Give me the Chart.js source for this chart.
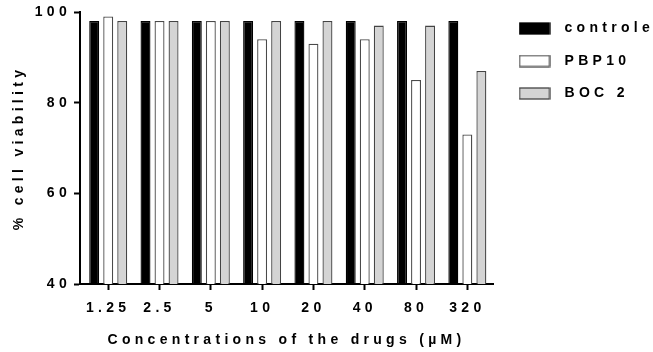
<!DOCTYPE html>
<html>
<head>
<meta charset="utf-8">
<script src="https://cdn.jsdelivr.net/npm/chart.js@4.4.0/dist/chart.umd.min.js"></script>
<style>
  html, body { margin: 0; padding: 0; background: #fff; }
  #wrap { width: 653px; height: 352px; }
</style>
</head>
<body>
<div id="wrap"><canvas id="c" width="653" height="352"></canvas></div>
<script>
// Cell viability (%) after exposure to each drug concentration (µM)
const concentrations = ['1.25', '2.5', '5', '10', '20', '40', '80', '320'];
const controle = [98, 98, 98, 98, 98, 98, 98, 98];
const pbp10 = [99, 98, 98, 94, 93, 94, 85, 73];
const boc2 = [98, 98, 98, 98, 98, 97, 97, 87];
const viabilityTicks = [40, 60, 80, 100];

const FONT = "'Liberation Sans', Arial, sans-serif";
const LETTER_SPACING = '4.3px';
const boldFont = { family: FONT, size: 14, weight: 'bold' };

const seriesStyles = [
  { fill: '#000', stroke: '#000' },
  { fill: '#fff', stroke: '#4a4a4a' },
  { fill: '#d4d4d4', stroke: '#444' }
];

// Wide-tracked lettering for every label on the canvas
const trackedText = {
  id: 'trackedText',
  beforeUpdate(chart) { chart.ctx.letterSpacing = LETTER_SPACING; },
  beforeDraw(chart) { chart.ctx.letterSpacing = LETTER_SPACING; }
};

// 30x11 legend swatches with a wider gap before the label text
function swatch(style) {
  const c = document.createElement('canvas');
  c.width = 32; c.height = 13;
  const g = c.getContext('2d');
  g.fillStyle = style.fill;
  g.fillRect(1, 1, 30, 11);
  g.strokeStyle = style.stroke;
  g.lineWidth = 1.3;
  g.strokeRect(1, 1, 30, 11);
  return c;
}
const swatches = seriesStyles.map(swatch);

const points = values => values.map((v, i) => ({ x: i, y: v }));

new Chart(document.getElementById('c'), {
  type: 'bar',
  data: {
    datasets: [
      { label: 'controle', data: points(controle), backgroundColor: seriesStyles[0].fill, borderColor: seriesStyles[0].stroke, borderWidth: 1.3 },
      { label: 'PBP10', data: points(pbp10), backgroundColor: seriesStyles[1].fill, borderColor: seriesStyles[1].stroke, borderWidth: 1.3 },
      { label: 'BOC 2', data: points(boc2), backgroundColor: seriesStyles[2].fill, borderColor: seriesStyles[2].stroke, borderWidth: 1.3 }
    ]
  },
  options: {
    responsive: false,
    animation: false,
    devicePixelRatio: 1,
    datasets: { bar: { categoryPercentage: 0.82, barPercentage: 0.71 } },
    layout: { padding: { top: 3, right: 0, bottom: 0, left: 0 } },
    plugins: {
      tooltip: { enabled: false },
      legend: {
        position: 'right',
        align: 'start',
        maxWidth: 160,
        labels: {
          usePointStyle: true,
          pointStyleWidth: 46,
          boxHeight: 11,
          padding: 18.5,
          color: '#000',
          font: boldFont,
          generateLabels(chart) {
            const items = Chart.defaults.plugins.legend.labels.generateLabels(chart);
            items.forEach((item, i) => { item.pointStyle = swatches[i]; });
            return items;
          }
        }
      }
    },
    scales: {
      x: {
        type: 'linear',
        min: -0.55,
        max: 7.5,
        offset: false,
        afterBuildTicks: s => { s.ticks = concentrations.map((_, i) => ({ value: i })); },
        afterFit: s => { s.height = 68; },
        ticks: { callback: v => concentrations[v], color: '#000', font: boldFont, padding: 10, maxRotation: 0, autoSkip: false },
        grid: { offset: false, drawOnChartArea: false, tickLength: 6, tickWidth: 2, tickColor: '#000' },
        border: { display: true, width: 2, color: '#000' },
        title: { display: true, text: 'Concentrations of the drugs (µM)', color: '#000', font: boldFont, padding: { top: 0, bottom: 3 } }
      },
      y: {
        min: 40,
        max: 100,
        afterBuildTicks: s => { s.ticks = viabilityTicks.map(v => ({ value: v })); },
        afterFit: s => { s.width = 80; s.paddingTop = 12; },
        ticks: { color: '#000', font: boldFont, padding: 3 },
        grid: { drawOnChartArea: false, tickLength: 6, tickWidth: 2, tickColor: '#000' },
        border: { display: true, width: 2, color: '#000' },
        title: { display: true, text: '% cell viability', color: '#000', font: boldFont, padding: { top: 11, bottom: 0 } }
      }
    }
  },
  plugins: [trackedText]
});
</script>
</body>
</html>
